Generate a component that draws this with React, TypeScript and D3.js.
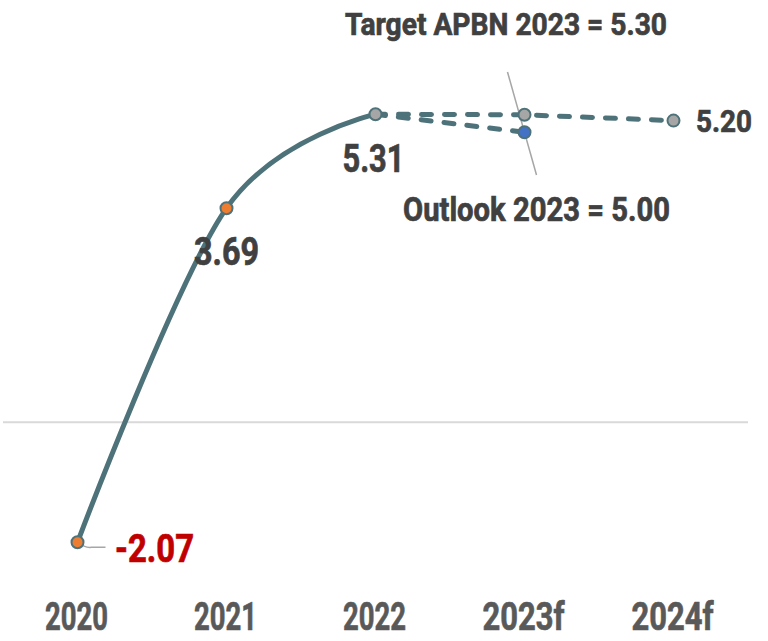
import React from "react";
import * as d3 from "d3";

const categories = ["2020", "2021", "2022", "2023f", "2024f"];
const actualYears = ["2020", "2021", "2022"];
const actualValues = [-2.07, 3.69, 5.31];
const targetYears = ["2022", "2023f", "2024f"];
const targetValues = [5.31, 5.3, 5.2];
const outlookYears = ["2022", "2023f"];
const outlookValues = [5.31, 5.0];
const targetLabel = "Target APBN 2023 = 5.30";
const outlookLabel = "Outlook 2023 = 5.00";

const W = 768;
const H = 641;
const FONT = "Roboto, 'Liberation Sans', Arial, sans-serif";
const NARROW = "'Liberation Sans Narrow', 'Arial Narrow', Roboto, sans-serif";
const LINE = "#4e7279";

export default function App() {
  const x = d3.scalePoint<string>().domain(categories).range([3, 748]).padding(0.5);
  const y = d3.scaleLinear().domain([-3, 7]).range([596.2, 16.2]);

  const actual = actualYears.map((c, i) => ({ c, v: actualValues[i] }));
  const target = targetYears.map((c, i) => ({ c, v: targetValues[i] }));
  const outlook = outlookYears.map((c, i) => ({ c, v: outlookValues[i] }));

  const solid = d3
    .line<{ c: string; v: number }>()
    .x((d) => x(d.c)!)
    .y((d) => y(d.v))
    .curve(d3.curveCatmullRom.alpha(0));
  const straight = d3
    .line<{ c: string; v: number }>()
    .x((d) => x(d.c)!)
    .y((d) => y(d.v));

  const px = (c: string) => x(c)!;

  const p2020 = actual[0];
  const p2021 = actual[1];
  const p2022 = actual[2];
  const pT23 = target[1];
  const pT24 = target[2];
  const pO23 = outlook[1];

  const dash = "10 13";
  const labelProps = (color: string) => ({
    fill: color,
    stroke: color,
    strokeWidth: 0.7,
    lengthAdjust: "spacingAndGlyphs" as const,
  });

  return (
    <svg
      width={W}
      height={H}
      style={{ position: "absolute", left: 0, top: 0, background: "#fff" }}
    >
      {/* zero line */}
      <line x1={3} x2={748} y1={y(0)} y2={y(0)} stroke="#d9d9d9" strokeWidth={2} />

      {/* leader lines */}
      <line
        x1={px("2023f") - 17}
        y1={72}
        x2={px("2023f") + 12}
        y2={175}
        stroke="#a6a6a6"
        strokeWidth={1.5}
      />
      <path
        d={`M${px("2020")},${y(p2020.v)} Q${px("2020") + 8},${y(p2020.v) + 6} ${px("2020") + 14},${y(p2020.v) + 5} L${px("2020") + 28},${y(p2020.v) + 5}`}
        fill="none"
        stroke="#a6a6a6"
        strokeWidth={1.5}
      />

      {/* lines */}
      <path d={solid(actual)!} fill="none" stroke={LINE} strokeWidth={5} strokeLinecap="round" />
      <path
        d={straight(target)!}
        fill="none"
        stroke={LINE}
        strokeWidth={5}
        strokeDasharray={dash}
        strokeLinecap="round"
      />
      <path
        d={straight(outlook)!}
        fill="none"
        stroke={LINE}
        strokeWidth={5}
        strokeDasharray={dash}
        strokeLinecap="round"
      />

      {/* markers */}
      {[
        { p: p2020, fill: "#ed7d31" },
        { p: p2021, fill: "#ed7d31" },
        { p: p2022, fill: "#a6a6a6" },
        { p: pT23, fill: "#a6a6a6" },
        { p: pT24, fill: "#a6a6a6" },
        { p: pO23, fill: "#4472c4" },
      ].map((m, i) => (
        <circle
          key={i}
          cx={px(m.p.c)}
          cy={y(m.p.v)}
          r={6}
          fill={m.fill}
          stroke={LINE}
          strokeWidth={2}
        />
      ))}

      {/* data labels */}
      <g fontFamily={FONT} fontWeight="bold">
        <text
          x={px("2020") + 37.5}
          y={y(p2020.v) + 19.4}
          fontSize={38}
          textLength={79}
          {...labelProps("#c00000")}
        >
          {p2020.v.toFixed(2)}
        </text>
        <text
          x={px("2021")}
          y={y(p2021.v) + 57}
          fontSize={38}
          textAnchor="middle"
          textLength={65}
          {...labelProps("#404040")}
        >
          {p2021.v.toFixed(2)}
        </text>
        <text
          x={px("2022") - 2}
          y={y(p2022.v) + 57.4}
          fontSize={38}
          textAnchor="middle"
          textLength={62}
          {...labelProps("#404040")}
        >
          {p2022.v.toFixed(2)}
        </text>
        <text
          x={px("2024f") + 22.5}
          y={y(pT24.v) + 11.6}
          fontSize={31}
          textLength={56}
          {...labelProps("#404040")}
        >
          {pT24.v.toFixed(2)}
        </text>
        <text x={345} y={35} fontSize={32} textLength={322} {...labelProps("#404040")}>
          {targetLabel}
        </text>
        <text x={403} y={221} fontSize={33} textLength={267} {...labelProps("#404040")}>
          {outlookLabel}
        </text>
      </g>

      {/* category axis labels */}
      <g fontFamily={NARROW} fontWeight="bold" fontSize={39}>
        {categories.map((c) => (
          <text
            key={c}
            x={px(c) - 1}
            y={629.5}
            textAnchor="middle"
            textLength={c.length > 4 ? 82 : 63}
            {...labelProps("#595959")}
          >
            {c}
          </text>
        ))}
      </g>
    </svg>
  );
}
